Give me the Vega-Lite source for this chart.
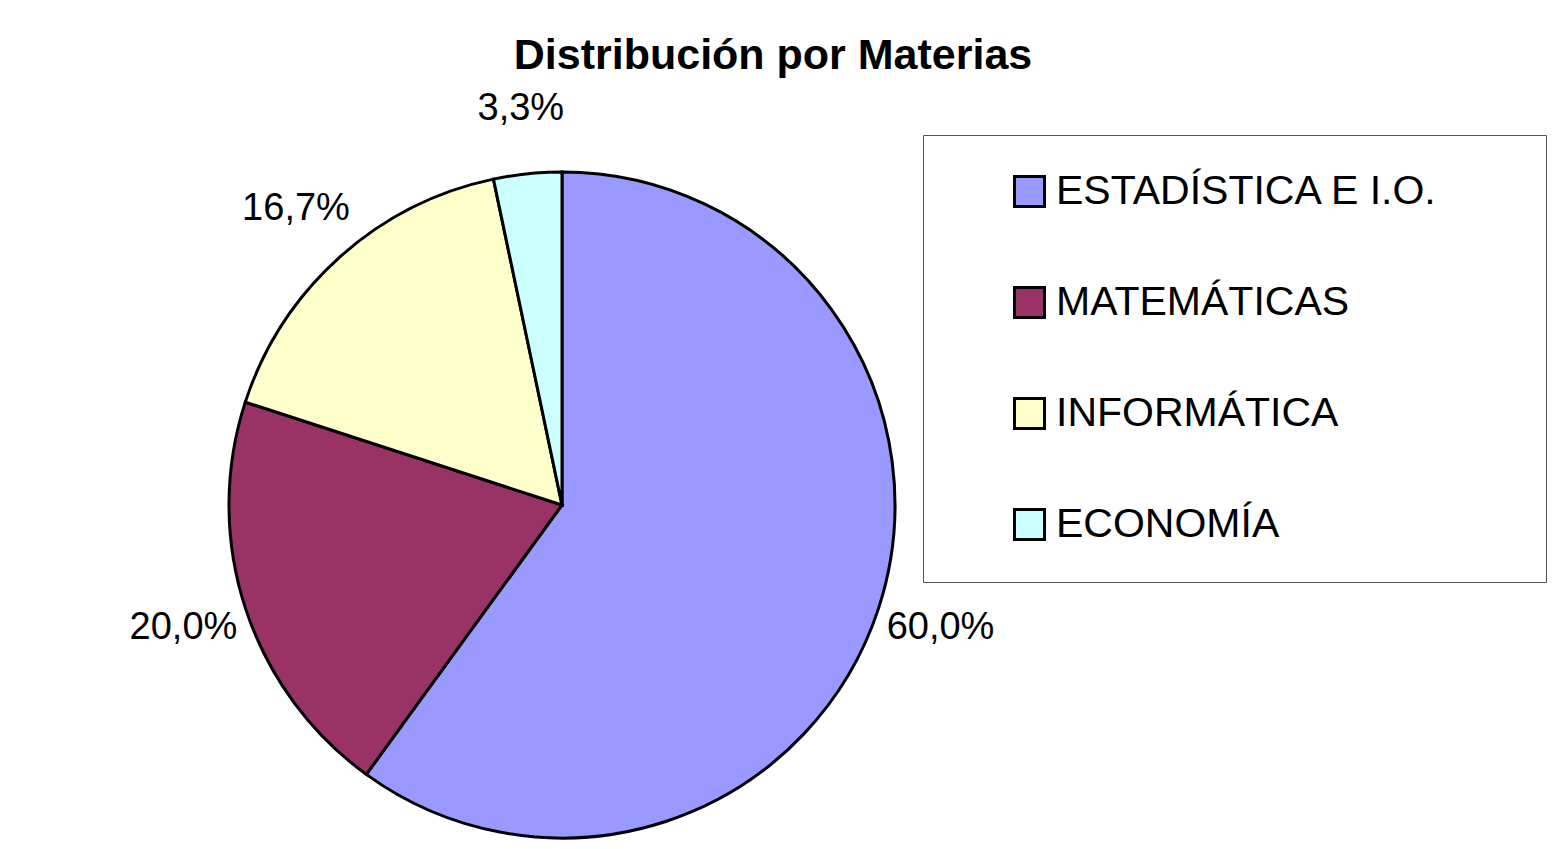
{
  "$schema": "https://vega.github.io/schema/vega-lite/v6.json",
  "autosize": "none",
  "width": 666,
  "height": 666,
  "padding": {"left": 229, "top": 172, "right": 657, "bottom": 11},
  "background": "white",
  "title": {
    "text": "Distribución por Materias",
    "font": "Liberation Sans",
    "fontSize": 43,
    "fontWeight": "bold",
    "color": "black",
    "anchor": "middle",
    "frame": "group",
    "dx": 211,
    "offset": 12
  },
  "data": {
    "values": [
      {"materia": "ESTADÍSTICA E I.O.", "fraccion": 0.6},
      {"materia": "MATEMÁTICAS", "fraccion": 0.2},
      {"materia": "INFORMÁTICA", "fraccion": 0.167},
      {"materia": "ECONOMÍA", "fraccion": 0.033}
    ]
  },
  "encoding": {
    "theta": {"field": "fraccion", "type": "quantitative", "stack": true},
    "order": {"field": "fraccion", "sort": "descending"},
    "color": {
      "field": "materia",
      "type": "nominal",
      "sort": null,
      "scale": {
        "domain": ["ESTADÍSTICA E I.O.", "MATEMÁTICAS", "INFORMÁTICA", "ECONOMÍA"],
        "range": ["#9999FF", "#993366", "#FFFFCC", "#CCFFFF"]
      },
      "legend": {
        "title": "\u00a0",
        "titleOrient": "right",
        "titleFontSize": 2,
        "titlePadding": 72,
        "orient": "none",
        "legendX": 694,
        "legendY": -37,
        "padding": 36,
        "symbolOffset": 50,
        "strokeColor": "#555555",
        "fillColor": "white",
        "symbolType": "square",
        "symbolSize": 900,
        "symbolStrokeColor": "black",
        "symbolStrokeWidth": 3,
        "symbolOpacity": 1,
        "labelFont": "Liberation Sans",
        "labelFontSize": 41,
        "labelColor": "black",
        "labelOffset": 6,
        "labelLimit": 0,
        "rowPadding": 68
      }
    }
  },
  "layer": [
    {
      "mark": {"type": "arc", "outerRadius": 333, "stroke": "black", "strokeWidth": 3}
    },
    {
      "mark": {"type": "text", "radius": 398, "font": "Liberation Sans", "fontSize": 38, "color": "black"},
      "encoding": {
        "text": {"field": "fraccion", "type": "quantitative", "format": ".1%"},
        "color": {"value": "black"}
      }
    }
  ],
  "config": {
    "locale": {"number": {"decimal": ",", "thousands": ".", "grouping": [3], "currency": ["", " €"]}},
    "view": {"stroke": null}
  }
}
